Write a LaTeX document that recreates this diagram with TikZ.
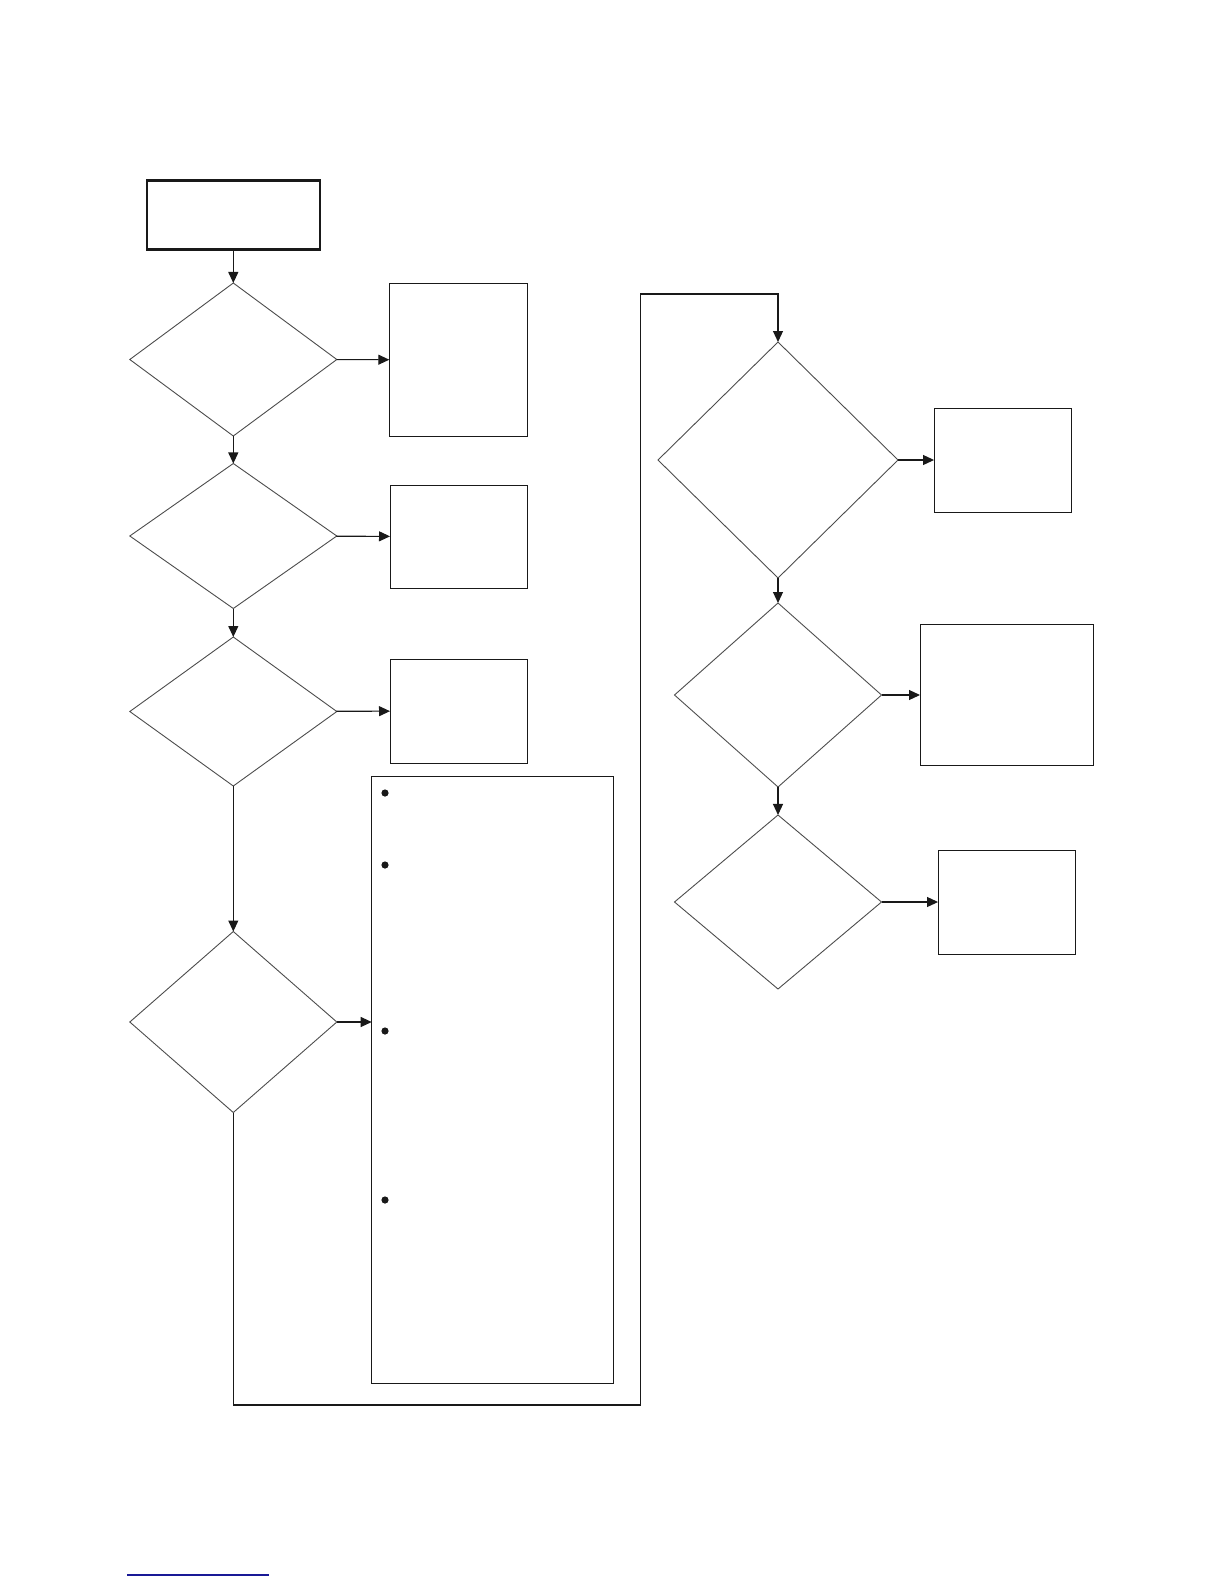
\documentclass[tikz,border=0pt]{standalone}
\usetikzlibrary{shapes.geometric, arrows.meta, positioning}
\definecolor{linkblue}{RGB}{25,25,150}

\begin{document}
\begin{tikzpicture}[x=1pt, y=-1pt,
  box/.style={draw=black!90, line width=1pt, rectangle, inner sep=0pt, outer sep=0pt},
  startbox/.style={box, line width=2.2pt},
  test/.style={draw=black!70, line width=0.9pt, diamond, inner sep=0pt, outer sep=0pt},
  arr/.style={-{Triangle[length=11pt, width=10pt]}, line width=1.1pt, black!90}]
\useasboundingbox (0,0) rectangle (1224,1584);
\node[startbox, minimum width=173pt, minimum height=69pt] (start) at (233.3,215) {};
\node[test, minimum width=207pt, minimum height=153pt] (t1) at (233.3,359.5) {};
\node[box, minimum width=138pt, minimum height=153pt] (r1) at (458.3,359.8) {};
\node[test, minimum width=207pt, minimum height=145pt] (t2) at (233.3,536) {};
\node[box, minimum width=137pt, minimum height=103pt] (r2) at (458.5,536.5) {};
\node[test, minimum width=207pt, minimum height=149pt] (t3) at (233.3,711.5) {};
\node[box, minimum width=137pt, minimum height=104pt] (r3) at (458.5,711) {};
\node[box, minimum width=242pt, minimum height=607pt] (notes) at (492.7,1079.8) {};
\node[test, minimum width=207pt, minimum height=181pt] (t4) at (233.3,1022) {};
\node[test, minimum width=240pt, minimum height=236pt] (t5) at (778,460) {};
\node[box, minimum width=137.5pt, minimum height=104pt] (r5) at (1002.8,460) {};
\node[test, minimum width=207pt, minimum height=184pt] (t6) at (778,695) {};
\node[box, minimum width=173pt, minimum height=141.5pt] (r6) at (1006.5,694.8) {};
\node[test, minimum width=207pt, minimum height=174pt] (t7) at (778,902) {};
\node[box, minimum width=137.5pt, minimum height=104pt] (r7) at (1006.8,902) {};
\coordinate (loopa) at (233.3,1405);
\coordinate (loopb) at (640.5,1405);
\coordinate (loopc) at (640.5,294);
\coordinate (loopd) at (778,294);
\foreach \y in {793,865,1031,1200}
  \fill[black!90] (385,\y) circle (3.6pt);
\draw[arr] (start) -- (t1);
\draw[arr] (t1) -- (r1);
\draw[arr] (t1) -- (t2);
\draw[arr] (t2) -- (r2);
\draw[arr] (t2) -- (t3);
\draw[arr] (t3) -- (r3);
\draw[arr] (t3) -- (t4);
\draw[arr] (t4) -- (t4.east -| notes.west);
\draw[arr] (t4.south) -- (loopa) -- (loopb) -- (loopc) -- (loopd) -- (t5.north);
\draw[arr] (t5) -- (r5);
\draw[arr] (t5) -- (t6);
\draw[arr] (t6) -- (t6.east -| r6.west);
\draw[arr] (t6) -- (t7);
\draw[arr] (t7) -- (r7);
\draw[linkblue, line width=1.5pt] (127,1575) -- (269,1575);
\end{tikzpicture}
\end{document}
